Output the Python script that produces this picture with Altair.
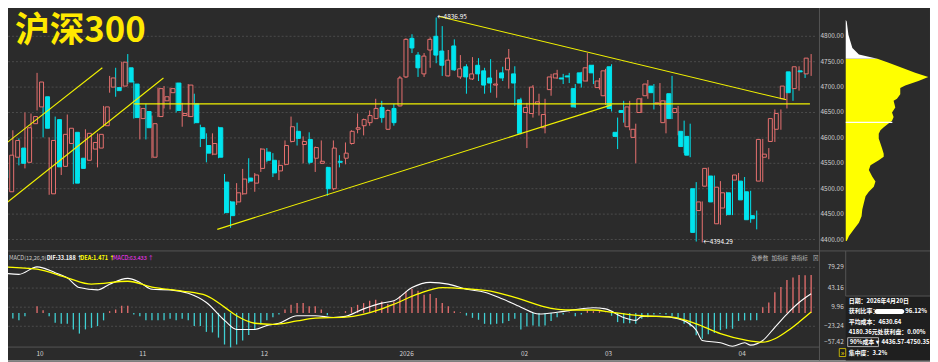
import altair as alt
import pandas as pd

# ---------------- CSI 300 daily candles ----------------
opens = [4537, 4494, 4562, 4580, 4552, 4628, 4661, 4681, 4490, 4636,
         4544, 4589, 4611, 4560, 4556, 4578, 4580, 4624, 4700, 4699,
         4702, 4738, 4706, 4638, 4652, 4562, 4642, 4673, 4689, 4708,
         4644, 4642, 4667, 4620, 4585, 4568, 4620, 4513, 4474, 4474,
         4490, 4521, 4511, 4540, 4572, 4556, 4535, 4548, 4593, 4613,
         4587, 4597, 4560, 4550, 4542, 4500, 4554, 4560, 4589, 4617,
         4624, 4630, 4638, 4660, 4617, 4658, 4663, 4720, 4796, 4763,
         4726, 4773, 4800, 4771, 4722, 4781, 4720, 4740, 4716, 4743,
         4732, 4718, 4704, 4728, 4734, 4726, 4675, 4650, 4648, 4667,
         4620, 4695, 4718, 4718, 4722, 4697, 4728, 4712, 4743, 4699,
         4683, 4740, 4611, 4654, 4622, 4601, 4650, 4683, 4702, 4667,
         4630, 4687, 4650, 4613, 4603, 4500, 4457, 4505, 4525, 4431,
         4462, 4492, 4517, 4515, 4494, 4447, 4515, 4562, 4593, 4617,
         4677, 4730, 4697, 4732, 4726]
highs = [4540, 4570, 4615, 4599, 4650, 4648, 4728, 4695, 4601, 4642,
         4608, 4646, 4617, 4572, 4617, 4601, 4609, 4663, 4722, 4738,
         4750, 4765, 4712, 4663, 4667, 4644, 4699, 4702, 4699, 4709,
         4669, 4706, 4687, 4626, 4609, 4609, 4622, 4529, 4476, 4511,
         4539, 4560, 4531, 4580, 4580, 4570, 4556, 4595, 4642, 4630,
         4603, 4611, 4583, 4595, 4543, 4595, 4566, 4591, 4615, 4648,
         4638, 4654, 4677, 4673, 4656, 4667, 4722, 4796, 4804, 4769,
         4767, 4798, 4836.95, 4820, 4773, 4794, 4763, 4745, 4759, 4757,
         4738, 4755, 4734, 4740, 4775, 4741, 4679, 4669, 4704, 4687,
         4677, 4726, 4734, 4726, 4728, 4706, 4730, 4767, 4744, 4718,
         4736, 4745, 4640, 4673, 4673, 4628, 4679, 4714, 4706, 4708,
         4674, 4722, 4663, 4634, 4628, 4513, 4475, 4542, 4526, 4515,
         4494, 4523, 4531, 4523, 4496, 4457, 4598, 4580, 4656, 4656,
         4704, 4736, 4741, 4738, 4765]
lows = [4517, 4492, 4552, 4546, 4540, 4620, 4654, 4601, 4488, 4525,
        4527, 4587, 4509, 4523, 4550, 4570, 4542, 4622, 4689, 4681,
        4698, 4706, 4638, 4597, 4597, 4560, 4641, 4658, 4656, 4650,
        4622, 4641, 4628, 4582, 4552, 4566, 4560, 4451, 4423, 4468,
        4488, 4511, 4494, 4533, 4552, 4523, 4517, 4546, 4591, 4585,
        4550, 4548, 4533, 4549, 4486, 4497, 4542, 4548, 4587, 4609,
        4605, 4624, 4637, 4630, 4616, 4624, 4662, 4718, 4767, 4720,
        4720, 4738, 4747, 4722, 4721, 4732, 4716, 4687, 4714, 4712,
        4687, 4689, 4679, 4712, 4697, 4663, 4607, 4580, 4640, 4644,
        4609, 4683, 4716, 4706, 4708, 4659, 4699, 4711, 4706, 4695,
        4665, 4652, 4578, 4630, 4615, 4550, 4649, 4677, 4656, 4663,
        4609, 4637, 4605, 4570, 4562, 4396, 4394.29, 4503, 4470, 4429,
        4447, 4448, 4492, 4462, 4433, 4420, 4513, 4558, 4592, 4616,
        4658, 4673, 4693, 4718, 4722]
closes = [4521, 4566, 4595, 4550, 4620, 4642, 4710, 4619, 4595, 4543,
          4607, 4619, 4511, 4540, 4609, 4591, 4607, 4661, 4718, 4693,
          4749, 4710, 4640, 4658, 4620, 4628, 4697, 4681, 4697, 4654,
          4648, 4704, 4630, 4599, 4570, 4589, 4562, 4453, 4447, 4492,
          4519, 4515, 4527, 4578, 4556, 4531, 4546, 4585, 4622, 4599,
          4593, 4552, 4581, 4554, 4500, 4580, 4552, 4570, 4613, 4620,
          4636, 4644, 4658, 4640, 4654, 4630, 4718, 4794, 4777, 4738,
          4761, 4794, 4763, 4743, 4753, 4734, 4736, 4720, 4726, 4726,
          4704, 4708, 4706, 4718, 4757, 4708, 4609, 4660, 4700, 4671,
          4646, 4720, 4726, 4716, 4720, 4661, 4708, 4738, 4728, 4712,
          4732, 4658, 4603, 4650, 4661, 4617, 4677, 4706, 4689, 4669,
          4673, 4638, 4658, 4583, 4566, 4414, 4474, 4540, 4474, 4503,
          4492, 4449, 4527, 4478, 4439, 4441, 4597, 4568, 4638, 4648,
          4702, 4689, 4740, 4730, 4757]

# ---------------- MACD(12,26,9) ----------------
macd_hist = [-14, -15.5, -9.8, -13, -5.7, 0, 11.5, 4.6, -5.7, -17,
             -19, -19, -28.7, -36, -28.7, -26, -23, -13, 3, 5.7,
             12.6, 12.6, -3, -5.7, -13, -13, -13, -13, -10, -13,
             -10, -13, -23, -23, -33, -34, -43, -55, -60, -55,
             -48, -38.5, -29, -20, -13, -7.5, -3, 5.7, 14, 17,
             17, 11.5, 11.5, 5.7, -4, 0.5, 0.5, 3, 10, 14,
             17, 21, 23, 20, 15.5, 20, 29, 37, 42, 38.5,
             31.6, 32.8, 26, 17, 11.5, 3, 1, -4.6, -8.6, -12,
             -19, -20, -19, -18, -14, -10, -29, -23.5, -22, -23.5,
             -22, -14, -7.5, -3, 0.5, -6, -3, 4, 3, 3,
             0.5, -5, -16, -18, -18, -19, -10, -7.5, -3, -2,
             -3, -6, -10, -19, -23.5, -39, -45, -37, -35, -30,
             -27.6, -27.6, -14, -13, -13, -13, 10, 18, 36, 45,
             57, 61.5, 66, 65.5, 66]
dif_idx = [0, 3, 6, 9, 11, 13, 16, 18, 21, 23, 25, 28, 31, 34, 37, 39, 42, 44,
           46, 49, 52, 55, 57, 60, 63, 65, 68, 71, 74, 77, 80, 83, 86, 89, 92,
           94, 98, 100, 103, 105, 106, 109, 112, 115, 116, 119, 121, 123, 124,
           126, 128, 130, 132, 134]
dif_val = [70, 67, 80, 70, 61, 44, 40, 50, 60, 53, 41, 40, 34, 18, -13, -29, -29,
           -22, -18, -5, -5, -8, -6, 7, 17, 21, 44, 53, 50, 41, 36, 24, 10, -2, 1,
           4, 9, 7, -8, -13, -6, -6, -10, -30, -48, -52, -58, -52, -56, -48, -25,
           -2, 18, 33.2]
dea_idx = [0, 6, 11, 15, 21, 25, 30, 34, 37, 39, 42, 45, 49, 52, 57, 63, 65, 69,
           73, 77, 81, 85, 91, 94, 98, 101, 106, 111, 115, 119, 123, 126, 128,
           130, 132, 134]
dea_val = [80, 76, 61, 50, 55, 45, 38, 30, 10, -5, -18, -20, -14, -9, -7.5, 7, 15,
           33, 44, 42, 38, 27, 8, 5, 5, 1, -5, -7.5, -19, -36, -47, -51, -45, -32,
           -16, 1.5]

# ---------------- axes ----------------
price_ticks = [4400, 4450, 4500, 4550, 4600, 4650, 4700, 4750, 4800]
macd_ticks = [79.29, 43.16, 9.96, -23.24]
macd_bottom_tick = [-57.42]
month_labels = ["10", "11", "12", "2026", "02", "03", "04"]
month_pos = [6.5, 23.5, 43.6, 67.1, 86.6, 100.5, 122.6]

# ---------------- drawn trend lines ----------------
trend_id = ["a", "a", "b", "b", "c", "c", "d", "d", "e", "e"]
trend_i = [-0.1, 16.8, -0.1, 26.9, 22.0, 133.8, 35.8, 101.0, 72.5, 129.9]
trend_p = [4580, 4738, 4462, 4718, 4667, 4667, 4420, 4665, 4839, 4675]

# ---------------- chip distribution ----------------
chip_price = [4397, 4407, 4420, 4433, 4446, 4459, 4472, 4485, 4494, 4504, 4514,
              4524, 4537, 4546, 4556, 4563, 4569, 4579, 4589, 4599, 4608, 4615,
              4621, 4634, 4641, 4650, 4660, 4673, 4677, 4686, 4698, 4703, 4712,
              4720, 4728, 4738, 4748, 4756, 4764, 4777, 4803, 4829, 4832]
chip_vol = [1, 3.3, 8.3, 13.3, 16, 16.7, 18.3, 20, 23.3, 28.3, 30, 26.7, 23.3,
            25, 33.3, 38.3, 38.3, 36.7, 35, 33.3, 33.3, 35, 38.3, 46.7, 48.3,
            46.7, 50, 48.3, 51.7, 55, 55, 60, 73.3, 83.3, 70, 56.7, 43.3, 32,
            13.3, 6.7, 2.7, 1, 0]
current_close = 4756
avg_cost = 4630.64

BG = "#2b2b2b"
RED = "#e8706f"
CYAN = "#00e4ee"
HCYAN = "#3fcfd2"
YELLOW = "#ffff00"
GRID = "#4c4c4c"
LINE = "#555555"
LABEL = "#d2d2d2"
FONT = "Noto Sans CJK SC"

N = len(closes)
x_bar = alt.Scale(domain=[0, N - 1], range=[0.7, 818.1], nice=False, zero=False)
y_price = alt.Scale(domain=[4400, 4800], range=[240, 35], nice=False, zero=False)
y_macd = alt.Scale(domain=[0, 100], range=[314, 256], nice=False, zero=False)
x_chip = alt.Scale(domain=[0, 85], range=[853, 938], nice=False, zero=False)

up = "datum.close >= datum.open"
candles = pd.DataFrame({"i": list(range(N)), "open": opens, "high": highs,
                        "low": lows, "close": closes})
X = alt.X("i:Q", scale=x_bar, axis=None)

one = pd.DataFrame({"a": [0]})


def pixel_text(rows, **kw):
    df = pd.DataFrame(rows, columns=["x", "y", "t"])
    return alt.Chart(df).mark_text(font=FONT, **kw).encode(
        x=alt.X("x:Q", scale=None), y=alt.Y("y:Q", scale=None), text="t:N")


# frame
info_bg = alt.Chart(one).mark_rect(color="#1f1f1f").encode(
    x=alt.value(853), x2=alt.value(938), y=alt.value(297), y2=alt.value(362))
seg = pd.DataFrame({
    "x1": [0, 0, 0, 826.5, 853, 853],
    "x2": [827, 938, 827, 826.5, 853, 938],
    "y1": [1.5, 251.5, 348.5, 0, 251.5, 297],
    "y2": [1.5, 251.5, 348.5, 362, 297, 297]})
frame = alt.Chart(seg).mark_rule(color=LINE, strokeWidth=1).encode(
    x=alt.X("x1:Q", scale=None), x2="x2:Q", y=alt.Y("y1:Q", scale=None), y2="y2:Q")

grid = alt.Chart(pd.DataFrame({"p": price_ticks})).mark_rule(
    color=GRID, strokeDash=[2, 2], strokeWidth=1).encode(
    y=alt.Y("p:Q", scale=y_price, axis=None), x=alt.value(0), x2=alt.value(822))
macd_grid = alt.Chart(pd.DataFrame({"v": macd_ticks})).mark_rule(
    color=GRID, strokeDash=[2, 2], strokeWidth=1).encode(
    y=alt.Y("v:Q", scale=y_macd, axis=None), x=alt.value(0), x2=alt.value(822))

wick = alt.Chart(candles).mark_rule(strokeWidth=1).encode(
    x=X, y=alt.Y("low:Q", scale=y_price, axis=None), y2="high:Q",
    color=alt.condition(up, alt.value(RED), alt.value(CYAN)))
body = alt.Chart(candles).mark_bar(size=4, strokeWidth=1).encode(
    x=X, y=alt.Y("open:Q", scale=y_price, axis=None), y2="close:Q",
    fill=alt.condition(up, alt.value(BG), alt.value(CYAN)),
    stroke=alt.condition(up, alt.value(RED), alt.value(CYAN)))

trend = alt.Chart(pd.DataFrame({"line": trend_id, "i": trend_i, "p": trend_p})).mark_line(
    color="#f2f200", strokeWidth=1.1).encode(
    x=X, y=alt.Y("p:Q", scale=y_price, axis=None), detail="line:N")

ann = alt.Chart(pd.DataFrame({"i": [72, 116], "p": [4836.95, 4394.29],
                              "t": ["←4836.95", "←4394.29"]})).mark_text(
    align="left", baseline="middle", dx=1, fontSize=6.5, color="white", font=FONT).encode(
    x=X, y=alt.Y("p:Q", scale=y_price, axis=None), text="t:N")

price_lab = alt.Chart(pd.DataFrame({"p": price_ticks})).mark_text(
    align="right", baseline="middle", fontSize=6.5, color=LABEL, font=FONT).encode(
    y=alt.Y("p:Q", scale=y_price, axis=None), x=alt.value(851),
    text=alt.Text("p:Q", format=".2f"))

hist = alt.Chart(pd.DataFrame({"i": list(range(N)), "v": macd_hist})).mark_rule(
    strokeWidth=1.3).encode(
    x=X, y=alt.Y("v:Q", scale=y_macd, axis=None), y2=alt.datum(0),
    color=alt.condition("datum.v >= 0", alt.value(RED), alt.value(HCYAN)))
dif = alt.Chart(pd.DataFrame({"i": dif_idx, "v": dif_val})).mark_line(
    color="white", strokeWidth=1.1, interpolate="monotone").encode(
    x=X, y=alt.Y("v:Q", scale=y_macd, axis=None))
dea = alt.Chart(pd.DataFrame({"i": dea_idx, "v": dea_val})).mark_line(
    color=YELLOW, strokeWidth=1.3, interpolate="monotone").encode(
    x=X, y=alt.Y("v:Q", scale=y_macd, axis=None))
macd_lab = alt.Chart(pd.DataFrame({"v": macd_ticks})).mark_text(
    align="right", baseline="middle", fontSize=6.5, color=LABEL, font=FONT).encode(
    y=alt.Y("v:Q", scale=y_macd, axis=None), x=alt.value(851),
    text=alt.Text("v:Q", format=".2f"))
macd_lab2 = alt.Chart(pd.DataFrame({"v": macd_bottom_tick})).mark_text(
    align="right", baseline="middle", fontSize=6.5, color=LABEL, font=FONT, dy=-4).encode(
    y=alt.Y("v:Q", scale=y_macd, axis=None), x=alt.value(851),
    text=alt.Text("v:Q", format=".2f"))

month = alt.Chart(pd.DataFrame({"i": month_pos, "t": month_labels})).mark_text(
    align="center", baseline="middle", fontSize=6.5, color=LABEL, font=FONT).encode(
    x=X, y=alt.value(355.5), text="t:N")

chip = pd.DataFrame({"price": chip_price, "vol": chip_vol})
chip_lo = chip[chip.price <= current_close]
chip_hi = chip[chip.price >= current_close]
chip_y = alt.Chart(chip_lo).mark_area(orient="horizontal", color=YELLOW).encode(
    y=alt.Y("price:Q", scale=y_price, axis=None),
    x=alt.X("vol:Q", scale=x_chip, axis=None), x2=alt.datum(0))
chip_w = alt.Chart(chip_hi).mark_area(orient="horizontal", color="white").encode(
    y=alt.Y("price:Q", scale=y_price, axis=None),
    x=alt.X("vol:Q", scale=x_chip, axis=None), x2=alt.datum(0))
avg_line = alt.Chart(pd.DataFrame({"p": [avg_cost]})).mark_rule(
    color="white", strokeWidth=1.3).encode(
    y=alt.Y("p:Q", scale=y_price, axis=None),
    x=alt.X("a:Q", scale=x_chip, axis=None), x2="b:Q").transform_calculate(a="0", b="47")

title = pixel_text([[15, 41, "沪深300"]], align="left", baseline="alphabetic",
                   fontSize=35, fontWeight="bold", color="#ffe900")

hdr_base = pixel_text([[9, 259, "MACD(12,26,9)"]], align="left", baseline="middle",
                      fontSize=5.6, color="#c8c8c8")
hdr_dif = pixel_text([[47, 259, "DIF:33.188 ↑"]], align="left", baseline="middle",
                     fontSize=5.6, color="white", fontWeight="bold")
hdr_dea = pixel_text([[81, 259, "DEA:1.471 ↑"]], align="left", baseline="middle",
                     fontSize=5.6, color=YELLOW, fontWeight="bold")
hdr_macd = pixel_text([[114, 259, "MACD:63.433 ↑"]], align="left", baseline="middle",
                      fontSize=5.6, color="#ff33ff")
hdr_btn = pixel_text([[758, 259, "改参数"], [778, 259, "加指标"], [798, 259, "换指标"],
                      [820, 259, "⊠"]], align="left", baseline="middle",
                     fontSize=5.6, color="#bbbbbb")

info = pixel_text([[856, 302, "日期：2026年4月20日"],
                   [856, 312.5, "获利比率："],
                   [856, 323, "平均成本：4630.64"],
                   [856, 333.5, "4180.36元处获利盘：0.00%"],
                   [889, 343.5, "4436.57-4750.35"],
                   [856, 354, "集中度：3.2%"]],
                  align="left", baseline="middle", fontSize=6, color="white",
                  fontWeight="bold")
info_r = pixel_text([[935, 312.5, "96.12%"]], align="right", baseline="middle",
                    fontSize=6, color="white", fontWeight="bold")
box = alt.Chart(one).mark_rect(fill="#1f1f1f", stroke="#d0d0d0", strokeWidth=0.8).encode(
    x=alt.value(855), x2=alt.value(886), y=alt.value(339), y2=alt.value(348))
box_t = pixel_text([[857, 343.5, "90%成本 ▾"]], align="left", baseline="middle",
                   fontSize=6, color="white", fontWeight="bold")
pill = alt.Chart(pd.DataFrame({"v": [96.12]})).mark_bar(
    color="white", cornerRadius=2.5, height=5).encode(
    x=alt.X("a:Q", scale=alt.Scale(domain=[0, 100], range=[882, 913.2]), axis=None),
    x2="v:Q", y=alt.value(312.5)).transform_calculate(a="0")
dbl = alt.Chart(one).mark_rect(fill="#1f1f1f", stroke="#e6d200", strokeWidth=0.8).encode(
    x=alt.value(846.5), x2=alt.value(853), y=alt.value(350), y2=alt.value(358))
dbl_t = pixel_text([[849.7, 354, "»"]], align="center", baseline="middle",
                   fontSize=7, color="#e6d200", fontWeight="bold")

chart = alt.layer(
    info_bg, frame, grid, macd_grid, wick, body, trend, ann, price_lab,
    hist, dif, dea, macd_lab, macd_lab2, month,
    chip_y, chip_w, avg_line, title,
    hdr_base, hdr_dif, hdr_dea, hdr_macd, hdr_btn,
    info, info_r, box, box_t, pill, dbl, dbl_t,
).resolve_scale(
    x="independent", y="independent"
).properties(
    width=938, height=362,
    padding={"left": -8, "top": -8, "right": 0, "bottom": 0},
    autosize=alt.AutoSizeParams(type="none"),
    background=BG,
).configure_view(strokeWidth=0).configure(font=FONT)

chart.save("out.html", embed_options={"renderer": "svg", "actions": False})
